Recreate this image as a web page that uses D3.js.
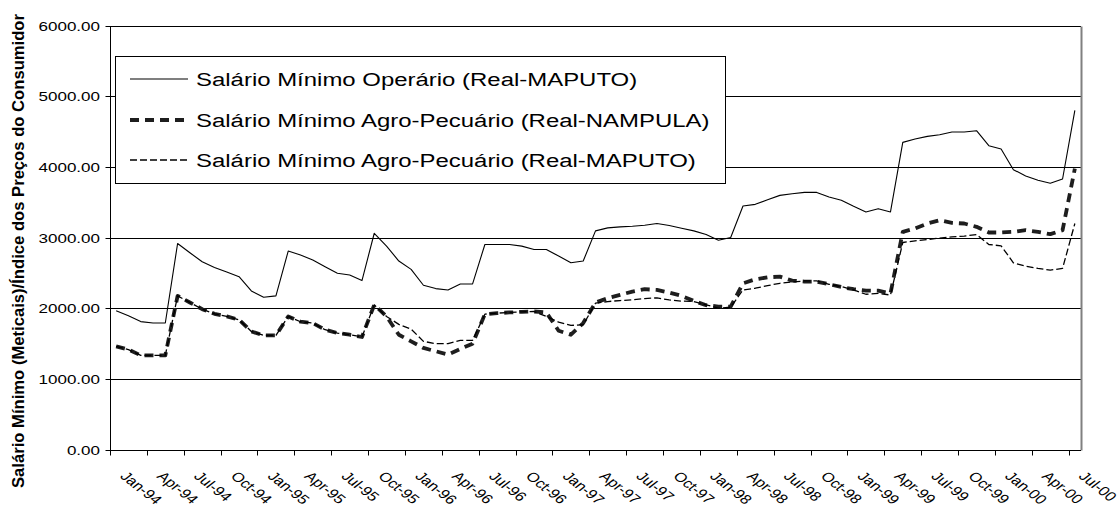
<!DOCTYPE html>
<html lang="pt">
<head>
<meta charset="UTF-8">
<title>Salário Mínimo Real</title>
<script src="https://d3js.org/d3.v7.min.js"></script>
<style>
  body { margin: 0; background: #fff; }
  text { font-family: "Liberation Sans", Arial, sans-serif; fill: #000; }
</style>
</head>
<body>
<svg id="chart" width="1120" height="513"></svg>
<script>
  // categories (monthly, Jan-94 .. Jul-00)
  var months = [
    "Jan-94","Feb-94","Mar-94","Apr-94","May-94","Jun-94","Jul-94","Aug-94","Sep-94","Oct-94","Nov-94","Dec-94",
    "Jan-95","Feb-95","Mar-95","Apr-95","May-95","Jun-95","Jul-95","Aug-95","Sep-95","Oct-95","Nov-95","Dec-95",
    "Jan-96","Feb-96","Mar-96","Apr-96","May-96","Jun-96","Jul-96","Aug-96","Sep-96","Oct-96","Nov-96","Dec-96",
    "Jan-97","Feb-97","Mar-97","Apr-97","May-97","Jun-97","Jul-97","Aug-97","Sep-97","Oct-97","Nov-97","Dec-97",
    "Jan-98","Feb-98","Mar-98","Apr-98","May-98","Jun-98","Jul-98","Aug-98","Sep-98","Oct-98","Nov-98","Dec-98",
    "Jan-99","Feb-99","Mar-99","Apr-99","May-99","Jun-99","Jul-99","Aug-99","Sep-99","Oct-99","Nov-99","Dec-99",
    "Jan-00","Feb-00","Mar-00","Apr-00","May-00","Jun-00","Jul-00"
  ];

  // Salário Mínimo Operário (Real-MAPUTO)
  var operMaputo = [
    1962,1892,1810,1790,1790,2915,2784,2657,2577,2512,2446,2244,
    2155,2174,2808,2751,2681,2587,2493,2469,2390,3060,2878,2667,
    2549,2324,2277,2258,2343,2343,2901,2901,2901,2878,2831,2831,
    2737,2643,2667,3094,3136,3150,3160,3174,3197,3169,3130,3094,
    3042,2962,3000,3446,3469,3535,3596,3620,3638,3638,3573,3526,
    3441,3362,3408,3362,4346,4393,4431,4454,4492,4492,4511,4299,
    4252,3960,3871,3809,3767,3828,4798
  ];

  // Salário Mínimo Agro-Pecuário (Real-NAMPULA)
  var agroNampula = [
    1460,1413,1333,1333,1333,2174,2080,1986,1920,1883,1836,1671,
    1615,1615,1883,1808,1789,1695,1648,1624,1592,2047,1883,1624,
    1530,1437,1390,1343,1423,1498,1915,1930,1939,1948,1953,1939,
    1681,1624,1789,2080,2141,2188,2235,2268,2258,2221,2174,2103,
    2042,2023,2023,2352,2408,2437,2446,2390,2376,2376,2338,2300,
    2268,2249,2247,2209,3080,3127,3198,3245,3207,3198,3151,3071,
    3071,3080,3104,3080,3047,3104,3974
  ];

  // Salário Mínimo Agro-Pecuário (Real-MAPUTO)
  var agroMaputo = [
    1460,1413,1333,1333,1333,2174,2080,1986,1920,1883,1836,1671,
    1615,1615,1883,1808,1789,1695,1648,1624,1592,2047,1883,1770,
    1704,1530,1498,1498,1545,1545,1915,1930,1939,1948,1953,1883,
    1803,1756,1765,2070,2094,2108,2117,2136,2146,2117,2100,2094,
    2047,2000,2014,2258,2282,2319,2352,2371,2385,2385,2338,2305,
    2258,2197,2209,2186,2929,2953,2972,2991,3009,3019,3042,2901,
    2882,2642,2595,2562,2539,2562,3198
  ];

  var yTicks = [0, 1000, 2000, 3000, 4000, 5000, 6000];
  var seriesNames = [
    "Salário Mínimo Operário (Real-MAPUTO)",
    "Salário Mínimo Agro-Pecuário (Real-NAMPULA)",
    "Salário Mínimo Agro-Pecuário (Real-MAPUTO)"
  ];
  var yTitle = "Salário Mínimo (Meticais)/Índice dos Preços do Consumidor";

  // the original picture is stretched horizontally, so text is too
  var sx = 1.28;

  var plotLeft = 110, plotRight = 1081, plotTop = 25.5, plotBottom = 449.5;

  var svg = d3.select("#chart");

  var x = d3.scaleBand().domain(months).range([plotLeft, plotRight]).padding(0);
  var y = d3.scaleLinear().domain([0, 6000]).range([plotBottom, plotTop]);
  var cx = function(i) { return x(months[i]) + x.bandwidth() / 2; };
  var py = function(v) { return Math.round(y(v)) + 0.5; };

  // gridlines
  svg.append("g")
    .selectAll("line")
    .data(yTicks)
    .enter().append("line")
    .attr("x1", plotLeft).attr("x2", plotRight)
    .attr("y1", py).attr("y2", py)
    .attr("stroke", "#000")
    .attr("stroke-width", 1);

  // right border of plot area
  svg.append("line")
    .attr("x1", plotRight + 0.5).attr("x2", plotRight + 0.5)
    .attr("y1", py(6000)).attr("y2", py(0))
    .attr("stroke", "#808080").attr("stroke-width", 2);

  // y axis
  var yAxis = svg.append("g")
    .attr("transform", "translate(" + (plotLeft + 0.5) + ",0)")
    .call(d3.axisLeft(y).tickValues(yTicks).tickSize(5).tickFormat(d3.format(".2f")));
  yAxis.select(".domain").attr("stroke", "#000").attr("d", "M0," + py(6000) + "V" + py(0));
  yAxis.selectAll(".tick").attr("transform", function(d) { return "translate(0," + py(d) + ")"; });
  yAxis.selectAll(".tick line").attr("stroke", "#000");
  yAxis.selectAll(".tick text")
    .attr("x", -10.5 / sx)
    .attr("dy", "0.35em")
    .attr("transform", "scale(" + sx + ",1)")
    .style("font-size", "13.3px")
    .style("font-family", "'Liberation Sans', Arial, sans-serif");

  // x axis
  var xg = svg.append("g");
  xg.append("line")
    .attr("x1", plotLeft).attr("x2", plotRight)
    .attr("y1", py(0)).attr("y2", py(0))
    .attr("stroke", "#000");
  var labelIdx = d3.range(0, months.length, 3);
  xg.selectAll(".xtick")
    .data(labelIdx)
    .enter().append("line")
    .attr("class", "xtick")
    .attr("x1", function(i) { return Math.round(x(months[i])) + 0.5; })
    .attr("x2", function(i) { return Math.round(x(months[i])) + 0.5; })
    .attr("y1", py(0)).attr("y2", py(0) + 5)
    .attr("stroke", "#000");
  xg.selectAll(".xlab")
    .data(labelIdx)
    .enter().append("text")
    .attr("class", "xlab")
    .attr("transform", function(i) {
      return "translate(" + (cx(i) + 3) + ",477) scale(" + sx + ",1) rotate(45)";
    })
    .style("font-size", "13px")
    .text(function(i) { return months[i]; });

  // y title
  svg.append("text")
    .attr("transform", "translate(24,251) scale(1.2,1) rotate(-90)")
    .attr("text-anchor", "middle")
    .attr("textLength", 474)
    .attr("lengthAdjust", "spacingAndGlyphs")
    .style("font-size", "14px")
    .style("font-weight", "bold")
    .text(yTitle);

  // lines
  var line = d3.line()
    .x(function(d, i) { return cx(i); })
    .y(function(d) { return y(d); });

  var styles = [
    { stroke: "#000", width: 1.1, dash: null },
    { stroke: "#1e1e1e", width: 3.8, dash: "9,6" },
    { stroke: "#000", width: 1.3, dash: "7,3" }
  ];
  var series = [operMaputo, agroNampula, agroMaputo];

  svg.selectAll(".series")
    .data(series)
    .enter().append("path")
    .attr("class", "series")
    .attr("fill", "none")
    .attr("d", function(d) { return line(d); })
    .attr("stroke", function(d, i) { return styles[i].stroke; })
    .attr("stroke-width", function(d, i) { return styles[i].width; })
    .attr("stroke-dasharray", function(d, i) { return styles[i].dash; })
    .attr("stroke-linejoin", "round");

  // legend
  var lg = svg.append("g");
  lg.append("rect")
    .attr("x", 115.5).attr("y", 56.5)
    .attr("width", 610).attr("height", 127)
    .attr("fill", "#fff").attr("stroke", "#000");
  var rowY = [79, 120, 160];
  seriesNames.forEach(function(name, i) {
    lg.append("line")
      .attr("x1", 130).attr("x2", 188)
      .attr("y1", rowY[i]).attr("y2", rowY[i])
      .attr("stroke", styles[i].stroke)
      .attr("stroke-width", styles[i].width)
      .attr("stroke-dasharray", styles[i].dash);
    lg.append("text")
      .attr("transform", "translate(196," + rowY[i] + ") scale(1.26,1)")
      .attr("dy", "0.36em")
      .style("font-size", "19px")
      .text(name);
  });
</script>
</body>
</html>
